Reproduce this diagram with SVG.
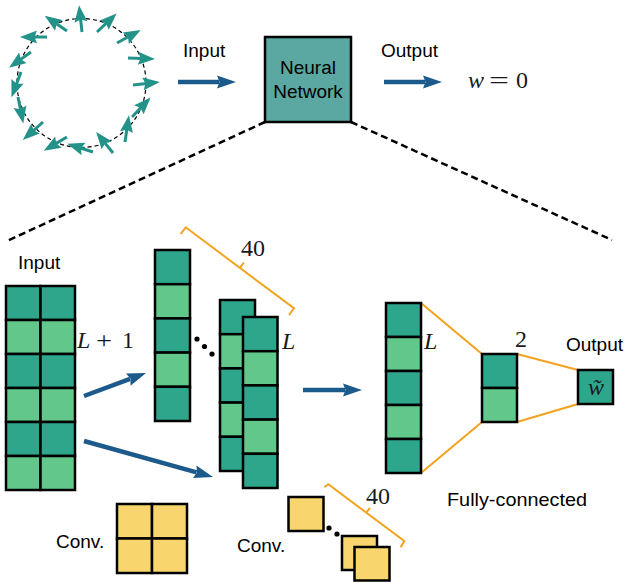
<svg xmlns="http://www.w3.org/2000/svg" xmlns:xlink="http://www.w3.org/1999/xlink" width="627" height="582" viewBox="0 0 627 582">
<style>
.sans{font-family:"Liberation Sans",Arial,sans-serif;font-size:19px;fill:#000}
.math{font-family:"Liberation Serif","Times New Roman",serif;font-size:24px;fill:#1a1a1a}
.it{font-style:italic}
.d{fill:#2ea68c;stroke:#000;stroke-width:2.5}
.l{fill:#62c78a;stroke:#000;stroke-width:2.5}
.y{fill:#f9d66d;stroke:#000;stroke-width:2.5}
.blue{stroke:#1c5a8c;stroke-width:4.5;fill:none;marker-end:url(#bh)}
.or{stroke:#f2a21e;stroke-width:2;fill:none}
</style>
<defs>
<marker id="bh" markerUnits="userSpaceOnUse" markerWidth="22" markerHeight="16" viewBox="0 -8 22 16" refX="2" refY="0" orient="auto">
<path d="M0,-6.5 L19,0 L0,6.5 L2.5,0 Z" fill="#1c5a8c"/>
</marker>
<g id="sp">
<line x1="0" y1="0" x2="14" y2="0" stroke="#23938a" stroke-width="3"/>
<path d="M10,-6.5 L27,0 L10,6.5 L12.5,0 Z" fill="#23938a"/>
</g>
</defs>

<g id="spins">
<circle cx="81.5" cy="83" r="64.5" fill="none" stroke="#000" stroke-width="1.2" stroke-dasharray="4 3"/>
<use xlink:href="#sp" transform="translate(82,32) rotate(-96.3)"/>
<use xlink:href="#sp" transform="translate(67,31) rotate(-145.7)"/>
<use xlink:href="#sp" transform="translate(97,32) rotate(-43.5)"/>
<use xlink:href="#sp" transform="translate(117,43) rotate(-28.6)"/>
<use xlink:href="#sp" transform="translate(47,37) rotate(180)"/>
<use xlink:href="#sp" transform="translate(128,58) rotate(2.1)"/>
<use xlink:href="#sp" transform="translate(31,52) rotate(144.5)"/>
<use xlink:href="#sp" transform="translate(133,85) rotate(-6.6)"/>
<use xlink:href="#sp" transform="translate(21,72) rotate(110.6)"/>
<use xlink:href="#sp" transform="translate(132,117) rotate(-46.5)"/>
<use xlink:href="#sp" transform="translate(18,97) rotate(78.7)"/>
<use xlink:href="#sp" transform="translate(125,142) rotate(-81.6)"/>
<use xlink:href="#sp" transform="translate(43,122) rotate(138.4)"/>
<use xlink:href="#sp" transform="translate(67,137) rotate(149.4)"/>
<use xlink:href="#sp" transform="translate(93,152) rotate(-162.3)"/>
<use xlink:href="#sp" transform="translate(113,153) rotate(-128.7)"/>
</g>

<g id="top-labels">
<text class="sans" x="183" y="57">Input</text>
<text class="sans" x="381" y="57">Output</text>
<text class="math it" x="468" y="88">w</text>
<text class="math" x="489" y="88" textLength="20" lengthAdjust="spacingAndGlyphs">=</text>
<text class="math" x="516" y="88">0</text>
</g>

<g id="neural-network">
<rect x="265" y="37" width="86" height="85" fill="#5aa8a1" stroke="#000" stroke-width="2.5"/>
<text class="sans" x="308" y="74" text-anchor="middle" font-size="18.5">Neural</text>
<text class="sans" x="308" y="98" text-anchor="middle" font-size="18.5">Network</text>
</g>

<g id="connectors">
<line x1="178" y1="82" x2="219" y2="82" class="blue"/>
<line x1="384" y1="82" x2="425" y2="82" class="blue"/>
<line x1="84" y1="396" x2="130.1" y2="378.9" class="blue"/>
<line x1="84" y1="441" x2="196.6" y2="472.4" class="blue"/>
<line x1="303" y1="390" x2="345" y2="390" class="blue"/>
<line x1="265" y1="122" x2="7" y2="241" stroke="#000" stroke-width="2.5" stroke-dasharray="7 4"/>
<line x1="351" y1="122" x2="612" y2="240" stroke="#000" stroke-width="2.5" stroke-dasharray="7 4"/>
<line x1="421" y1="303" x2="482" y2="354" class="or"/>
<line x1="421" y1="473" x2="482" y2="422" class="or"/>
<line x1="517" y1="354" x2="578" y2="370" class="or"/>
<line x1="517" y1="422" x2="578" y2="404" class="or"/>
</g>

<g id="input-grid">
<text class="sans" x="18" y="269">Input</text>
<rect class="d" x="6" y="286" width="34.5" height="34"/><rect class="d" x="40.5" y="286" width="34.5" height="34"/>
<rect class="l" x="6" y="320" width="34.5" height="34"/><rect class="l" x="40.5" y="320" width="34.5" height="34"/>
<rect class="d" x="6" y="354" width="34.5" height="34"/><rect class="d" x="40.5" y="354" width="34.5" height="34"/>
<rect class="l" x="6" y="388" width="34.5" height="34"/><rect class="l" x="40.5" y="388" width="34.5" height="34"/>
<rect class="d" x="6" y="422" width="34.5" height="34"/><rect class="d" x="40.5" y="422" width="34.5" height="34"/>
<rect class="l" x="6" y="456" width="34.5" height="34"/><rect class="l" x="40.5" y="456" width="34.5" height="34"/>
<text class="math it" x="77" y="348">L</text>
<text class="math" x="96" y="348" textLength="16" lengthAdjust="spacingAndGlyphs">+</text>
<text class="math" x="122" y="348">1</text>
</g>

<g id="conv-columns">
<rect class="d" x="155" y="250" width="35" height="34.2"/>
<rect class="l" x="155" y="284.2" width="35" height="34.2"/>
<rect class="d" x="155" y="318.4" width="35" height="34.2"/>
<rect class="l" x="155" y="352.6" width="35" height="34.2"/>
<rect class="d" x="155" y="386.8" width="35" height="34.2"/>
<circle cx="197" cy="339" r="2.6"/>
<circle cx="204.5" cy="346.5" r="2.6"/>
<circle cx="212" cy="354" r="2.6"/>
<rect class="d" x="220" y="300" width="35" height="34.2"/>
<rect class="l" x="220" y="334.2" width="35" height="34.2"/>
<rect class="d" x="220" y="368.4" width="35" height="34.2"/>
<rect class="l" x="220" y="402.6" width="35" height="34.2"/>
<rect class="d" x="220" y="436.8" width="35" height="34.2"/>
<rect class="d" x="243" y="317" width="34.5" height="34.2"/>
<rect class="l" x="243" y="351.2" width="34.5" height="34.2"/>
<rect class="d" x="243" y="385.4" width="34.5" height="34.2"/>
<rect class="l" x="243" y="419.6" width="34.5" height="34.2"/>
<rect class="d" x="243" y="453.8" width="34.5" height="34.2"/>
<path class="or" d="M180.7,234 L185.7,227.3 L294,308.3 L289,315 M239.9,267.8 L243.9,262.5"/>
<text class="math" x="241" y="256">40</text>
<text class="math it" x="282" y="349">L</text>
</g>

<g id="fc">
<rect class="d" x="386" y="303" width="35" height="34"/>
<rect class="l" x="386" y="337" width="35" height="34"/>
<rect class="d" x="386" y="371" width="35" height="34"/>
<rect class="l" x="386" y="405" width="35" height="34"/>
<rect class="d" x="386" y="439" width="35" height="34"/>
<text class="math it" x="424" y="349">L</text>
<rect class="d" x="482" y="354" width="35" height="34"/>
<rect class="l" x="482" y="388" width="35" height="34"/>
<text class="math" x="515" y="347">2</text>
<text class="sans" x="566" y="351">Output</text>
<rect class="d" x="578" y="370" width="35" height="34"/>
<text class="math it" x="596" y="395" text-anchor="middle" font-size="26">w̃</text>
<text class="sans" x="447" y="506" textLength="140" lengthAdjust="spacingAndGlyphs">Fully-connected</text>
</g>

<g id="conv-2x2">
<text class="sans" x="56" y="548">Conv.</text>
<rect class="y" x="117" y="504" width="35" height="34.5"/>
<rect class="y" x="152" y="504" width="35" height="34.5"/>
<rect class="y" x="117" y="538.5" width="35" height="34.5"/>
<rect class="y" x="152" y="538.5" width="35" height="34.5"/>
</g>

<g id="conv-1x1">
<text class="sans" x="237" y="552">Conv.</text>
<rect class="y" x="288.5" y="497" width="35" height="34"/>
<circle cx="329" cy="528" r="2.6"/>
<circle cx="337" cy="534" r="2.6"/>
<rect class="y" x="342" y="536" width="35" height="34"/>
<rect class="y" x="354.5" y="547" width="35" height="33.5"/>
<path class="or" d="M324.3,487.3 L328.3,484.3 L404.3,541 L400.7,547.3 M366.3,512.7 L369.9,507.9"/>
<text class="math" x="366" y="504">40</text>
</g>
</svg>
